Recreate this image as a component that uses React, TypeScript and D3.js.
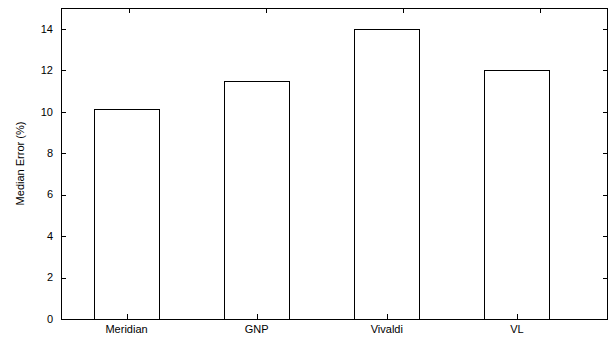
import React, { useEffect, useRef } from 'react';
import * as d3 from 'd3';

// values
const categories = ['Meridian', 'GNP', 'Vivaldi', 'VL'];
const medianError = [10.15, 11.5, 14, 12];
const yTicks = [0, 2, 4, 6, 8, 10, 12, 14];

const App = () => {
    const svgRef = useRef<SVGSVGElement>(null);

    useEffect(() => {
        const width = 609;
        const height = 339;
        const margin = { top: 8, right: 1, bottom: 20, left: 61 };
        const innerRight = width - margin.right;
        const innerBottom = height - margin.bottom;
        const font = '"Liberation Sans", Arial, Helvetica, sans-serif';

        const svg = d3.select(svgRef.current);
        svg.selectAll('*').remove();
        svg.attr('width', width).attr('height', height);

        // gnuplot style x range: a bit of extra room on the right
        const x = d3.scaleLinear().domain([-0.5, 3.7]).range([margin.left + 0.5, innerRight]);
        // top mirror ticks use their own range
        const x2 = d3.scaleLinear().domain([-0.5, 3.5]).range([margin.left, innerRight]);
        const y = d3.scaleLinear().domain([0, 15]).range([innerBottom, margin.top]);

        const tickLen = 5;

        // bars
        svg.selectAll('.bar')
            .data(medianError)
            .enter()
            .append('rect')
            .attr('class', 'bar')
            .attr('x', (d, i) => Math.round(x(i - 0.25)) + 0.5)
            .attr('y', d => Math.round(y(d)) + 0.5)
            .attr('width', (d, i) => Math.round(x(i + 0.25)) - Math.round(x(i - 0.25)))
            .attr('height', d => Math.round(y(0)) - Math.round(y(d)))
            .attr('fill', 'none')
            .attr('stroke', '#000')
            .attr('stroke-width', 1);

        const g = svg.append('g')
            .attr('stroke', '#000')
            .attr('stroke-width', 1);

        // left ticks and right mirrored ticks
        yTicks.forEach(t => {
            const yy = Math.round(y(t)) + 0.5;
            g.append('line')
                .attr('x1', margin.left).attr('x2', margin.left + tickLen)
                .attr('y1', yy).attr('y2', yy);
            g.append('line')
                .attr('x1', innerRight - tickLen).attr('x2', innerRight)
                .attr('y1', yy).attr('y2', yy);
        });

        // bottom ticks and top mirrored ticks
        categories.forEach((c, i) => {
            const xb = Math.round(x(i)) + 0.5;
            g.append('line')
                .attr('x1', xb).attr('x2', xb)
                .attr('y1', innerBottom).attr('y2', innerBottom - tickLen);
            const xt = Math.round(x2(i)) + 0.5;
            g.append('line')
                .attr('x1', xt).attr('x2', xt)
                .attr('y1', margin.top).attr('y2', margin.top + tickLen);
        });

        // frame
        svg.append('rect')
            .attr('x', margin.left + 0.5)
            .attr('y', margin.top + 0.5)
            .attr('width', innerRight - margin.left - 1)
            .attr('height', innerBottom - margin.top)
            .attr('fill', 'none')
            .attr('stroke', '#000')
            .attr('stroke-width', 1);

        // y tick labels
        svg.selectAll('.ylabel')
            .data(yTicks)
            .enter()
            .append('text')
            .attr('class', 'ylabel')
            .attr('x', margin.left - 8)
            .attr('y', d => y(d))
            .attr('dy', '0.35em')
            .attr('text-anchor', 'end')
            .style('font-family', font)
            .style('font-size', '11px')
            .attr('fill', '#000')
            .text(d => d);

        // category labels
        svg.selectAll('.xlabel')
            .data(categories)
            .enter()
            .append('text')
            .attr('class', 'xlabel')
            .attr('x', (d, i) => x(i))
            .attr('y', 333)
            .attr('text-anchor', 'middle')
            .style('font-family', font)
            .style('font-size', '11px')
            .attr('fill', '#000')
            .text(d => d);

        // y axis title
        svg.append('text')
            .attr('transform', `translate(20,${(margin.top + innerBottom) / 2}) rotate(-90)`)
            .attr('dy', '0.35em')
            .attr('text-anchor', 'middle')
            .style('font-family', font)
            .style('font-size', '11px')
            .attr('fill', '#000')
            .text('Median Error (%)');
    }, []);

    return (
        <div style={{ position: 'absolute', left: 0, top: 0, background: '#fff' }}>
            <svg ref={svgRef}></svg>
        </div>
    );
};

export default App;
